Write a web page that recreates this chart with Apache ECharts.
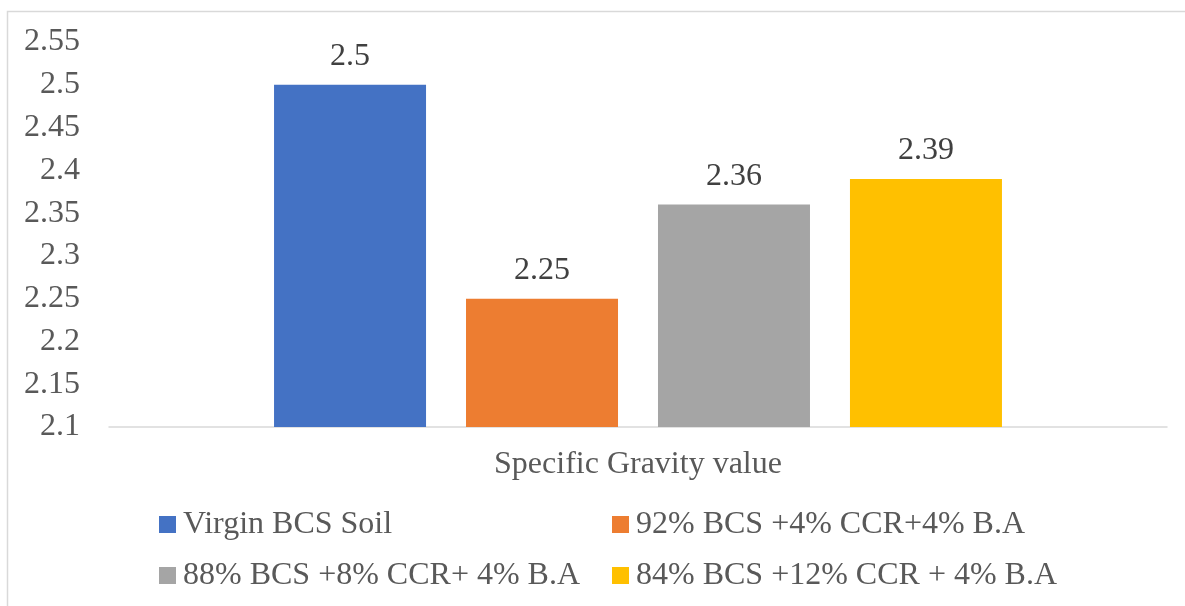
<!DOCTYPE html>
<html>
<head>
<meta charset="utf-8">
<script src="https://cdn.jsdelivr.net/npm/echarts@6/dist/echarts.min.js"></script>
<style>
  html, body { margin: 0; padding: 0; background: #fff; }
  #box { width: 1185px; height: 606px; }
</style>
</head>
<body>
<div id="box"></div>
<script>
// data
const categories = ["Specific Gravity value"];
const seriesNames = [
  "Virgin BCS Soil",
  "92% BCS +4% CCR+4% B.A",
  "88% BCS +8% CCR+ 4% B.A",
  "84% BCS +12% CCR + 4% B.A"
];
const virginSoil = [2.5];
const mix92 = [2.25];
const mix88 = [2.36];
const mix84 = [2.39];
const yTicks = [2.1, 2.55, 0.05]; // min, max, step

const colors = ["#4472C4", "#ED7D31", "#A5A5A5", "#FFC000"];
const font = "'Liberation Serif', 'Times New Roman', serif";
const values = [virginSoil, mix92, mix88, mix84];

// legend in two rows, two columns
const legendPos = [
  { left: 159, top: 508 },
  { left: 612, top: 508 },
  { left: 159, top: 559 },
  { left: 612, top: 559 }
];

let myChart = echarts.init(document.getElementById("box"));
let option = {
  animation: false,
  backgroundColor: "#fff",
  color: colors,
  graphic: [{
    type: "rect",
    shape: { x: 7.5, y: 11.5, width: 1400, height: 800 },
    style: { fill: "none", stroke: "#d9d9d9", lineWidth: 1.5 },
    silent: true
  }],
  legend: seriesNames.map((name, i) => ({
    data: [name],
    left: legendPos[i].left,
    top: legendPos[i].top,
    padding: 0,
    icon: "rect",
    itemWidth: 17,
    itemHeight: 17,
    itemGap: 0,
    textStyle: { fontFamily: font, fontSize: 32, color: "#595959", lineHeight: 33, padding: [0, 0, 0, 2] },
    selectedMode: false
  })),
  grid: {
    left: 109,
    right: 18,
    top: 42,
    bottom: 179
  },
  xAxis: {
    type: "category",
    data: categories,
    axisLine: { lineStyle: { color: "#d9d9d9", width: 1.5 } },
    axisTick: { show: false },
    axisLabel: { fontFamily: font, fontSize: 32, color: "#595959", margin: 22 }
  },
  yAxis: {
    type: "value",
    min: yTicks[0],
    max: yTicks[1],
    interval: yTicks[2],
    axisLine: { show: false },
    axisTick: { show: false },
    splitLine: { show: false },
    axisLabel: {
      fontFamily: font, fontSize: 32, color: "#595959", margin: 29,
      formatter: v => String(parseFloat(v.toFixed(2)))
    }
  },
  series: seriesNames.map((name, i) => ({
    name: name,
    type: "bar",
    data: values[i],
    barWidth: 152,
    barGap: "26.3%",
    itemStyle: { color: colors[i] },
    label: {
      show: true,
      position: "top",
      distance: 12,
      fontFamily: font,
      fontSize: 32,
      color: "#404040"
    }
  }))
};
myChart.setOption(option);
</script>
</body>
</html>
